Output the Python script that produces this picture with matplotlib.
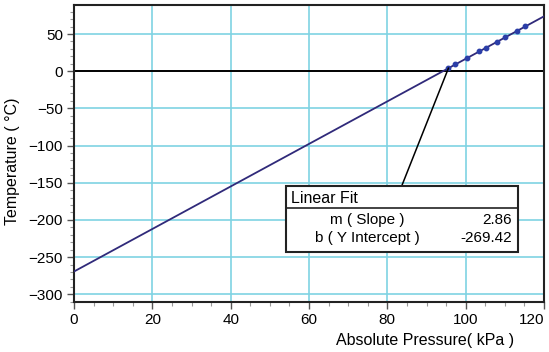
import numpy as np
import matplotlib
matplotlib.use("Agg")
import matplotlib.pyplot as plt
from matplotlib.patches import Rectangle
from matplotlib.ticker import MultipleLocator

plt.rcParams['font.family'] = ['Liberation Sans', 'DejaVu Sans']

# measured points (absolute pressure kPa, temperature C)
pressure = [95.6, 97.4, 100.3, 103.3, 105.2, 107.9, 110.1, 113.0, 115.2]
temperature = [4.0, 9.5, 17.5, 26.5, 31.8, 39.0, 45.6, 53.8, 60.5]

# linear fit
slope = 2.86
intercept = -269.42
fit_x = [0, 120]

x_ticks = [0, 20, 40, 60, 80, 100, 120]
y_ticks = [50, 0, -50, -100, -150, -200, -250, -300]

fig = plt.figure(figsize=(5.49, 3.52), dpi=100)
W, H = 549, 352
ax = fig.add_axes([74 / W, 1 - 301.7 / H, (544 - 74) / W, (301.7 - 5) / H])

grid_c = '#7fd3e3'
for xv in x_ticks[1:-1]:
    ax.axvline(xv, color=grid_c, lw=1.2, zorder=0)
for yv in y_ticks:
    if yv != 0:
        ax.axhline(yv, color=grid_c, lw=1.2, zorder=0)
ax.axhline(0, color='black', lw=1.4, zorder=1)

fx = np.array(fit_x, dtype=float)
ax.plot(fx, slope * fx + intercept, color='#302a7a', lw=1.3, zorder=3)
ax.plot(pressure, temperature, 'o', color='#2b3ea8', ms=3.2, zorder=4)

ax.set_xlim(0, 120)
ax.set_ylim(-310, 89)
ax.set_xticks(x_ticks)
ax.set_yticks(y_ticks)
ax.xaxis.set_minor_locator(MultipleLocator(5))
ax.yaxis.set_minor_locator(MultipleLocator(10))
ax.tick_params(which='major', direction='out', length=5, width=1, color='#555555',
               labelsize=11, pad=3)
ax.tick_params(which='minor', direction='out', length=3, width=0.8, color='#999999')
labels = ax.get_xticklabels()
ax.set_xticklabels([str(v) for v in x_ticks])
ax.get_xticklabels()[-1].set_horizontalalignment('right')
for s in ax.spines.values():
    s.set_linewidth(1.5)
    s.set_color('#222222')

fig.text(425 / W, 1 - 340 / H, 'Absolute Pressure( kPa )', ha='center', va='center', fontsize=11.5)
fig.text(13 / W, 1 - 161 / H, 'Temperature ( \u00b0C)', ha='center', va='center',
         rotation=90, fontsize=11.5)

# leader line from fit to the box
ax.plot([pressure[0], 83.7], [temperature[0], -154], color='black', lw=1.1, zorder=5)

# Linear Fit box
bx0, bx1 = 54.0, 113.3
by0, by1 = -243.0, -154.0
ax.add_patch(Rectangle((bx0, by0), bx1 - bx0, by1 - by0, facecolor='white',
                       edgecolor='#222222', lw=1.5, zorder=6))
ax.plot([bx0, bx1], [-184.6, -184.6], color='#222222', lw=1.2, zorder=7)
ax.text(55.3, -171.5, 'Linear Fit', ha='left', va='center', fontsize=11.5, zorder=8)
ax.text(74.8, -199.5, 'm ( Slope )', ha='center', va='center', fontsize=11, zorder=8)
ax.text(74.8, -225.0, 'b ( Y Intercept )', ha='center', va='center', fontsize=11, zorder=8)
ax.text(111.8, -199.5, f'{slope:.2f}', ha='right', va='center', fontsize=11, zorder=8)
ax.text(111.8, -225.0, f'{intercept:.2f}', ha='right', va='center', fontsize=11, zorder=8)

fig.savefig('out.png', dpi=100)
